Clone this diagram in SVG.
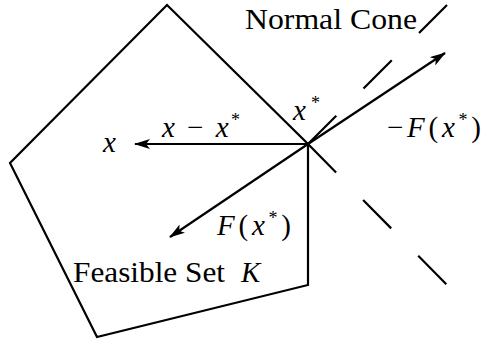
<svg xmlns="http://www.w3.org/2000/svg" width="483" height="346" viewBox="0 0 483 346">
<style>
.ln{fill:none;stroke:#000;stroke-width:2.2;stroke-linecap:butt;stroke-linejoin:miter}
.ar{fill:none;stroke:#000;stroke-width:2.2;marker-end:url(#ah)}
.dash{fill:none;stroke:#000;stroke-width:2.2;stroke-dasharray:40 38.5}
text{font-family:"Liberation Serif","DejaVu Serif",serif;font-size:29px;fill:#000}
.it{font-style:italic}
.sup{font-size:18px;font-style:normal}
</style>
<defs>
<marker id="ah" viewBox="0 0 16 10" refX="15" refY="5" markerWidth="16" markerHeight="10" markerUnits="userSpaceOnUse" orient="auto">
<path d="M0,0 L16,5 L0,10 L4,5 z" fill="#000"/>
</marker>
</defs>
<g id="feasible-set">
<polygon class="ln" points="167,5 308,144 308,285 97,337 10,163"/>
<text x="73" y="282" textLength="152" lengthAdjust="spacingAndGlyphs">Feasible Set</text>
<text class="it" x="241" y="282">K</text>
</g>
<g id="normal-cone">
<line class="dash" x1="308" y1="144" x2="447" y2="5"/>
<line class="dash" x1="308" y1="144" x2="447" y2="285"/>
<text x="245" y="29" textLength="172" lengthAdjust="spacingAndGlyphs">Normal Cone</text>
</g>
<g id="point-x">
<text class="it" x="103" y="152">x</text>
</g>
<g id="point-xstar">
<text class="it" x="293" y="120" textLength="27" lengthAdjust="spacing">x<tspan class="sup" dy="-11">*</tspan></text>
</g>
<g id="connectors">
<line class="ar" x1="308" y1="144" x2="135" y2="144"/>
<line class="ar" x1="308" y1="144" x2="170" y2="237"/>
<line class="ar" x1="308" y1="144" x2="445" y2="53"/>
</g>
<g id="labels">
<text class="it" x="162" y="137" textLength="78" lengthAdjust="spacing">x <tspan font-style="normal">−</tspan> x<tspan class="sup" dy="-11">*</tspan></text>
<text x="387" y="137" textLength="94" lengthAdjust="spacing">−<tspan class="it">F</tspan>(<tspan class="it">x</tspan><tspan class="sup" dy="-11">*</tspan><tspan dy="11">)</tspan></text>
<text x="217" y="235" textLength="74" lengthAdjust="spacing"><tspan class="it">F</tspan>(<tspan class="it">x</tspan><tspan class="sup" dy="-11">*</tspan><tspan dy="11">)</tspan></text>
</g>
</svg>
